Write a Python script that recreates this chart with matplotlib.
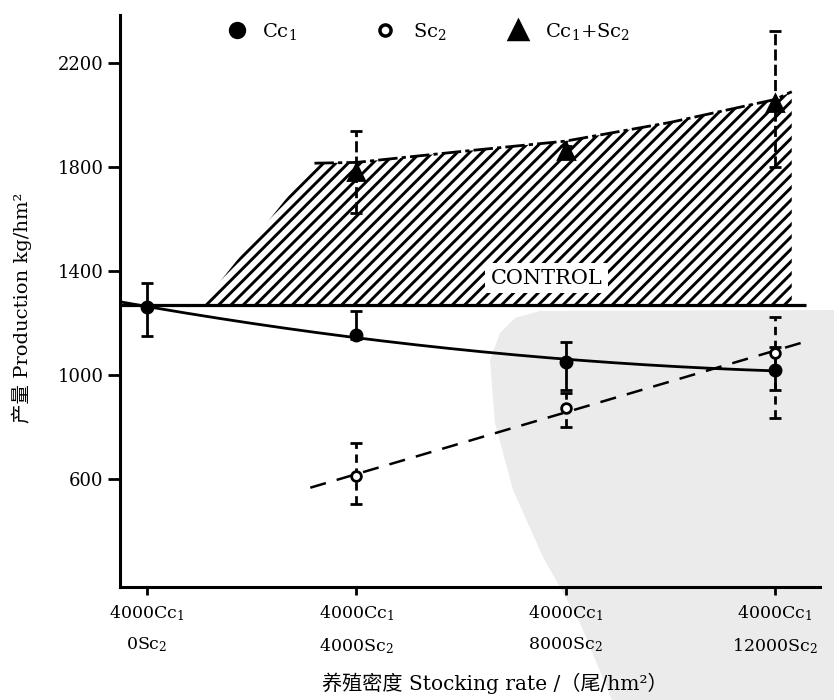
import numpy as np
import matplotlib
matplotlib.use("Agg")
import matplotlib.pyplot as plt
from matplotlib.patches import Polygon
from matplotlib.lines import Line2D
from matplotlib.collections import LineCollection

plt.rcParams['font.family'] = ['DejaVu Serif', 'Noto Sans CJK SC']
plt.rcParams['mathtext.fontset'] = 'dejavuserif'

# ---- data -------------------------------------------------------------
treat_labels = ["4000Cc$_1$\n0Sc$_2$", "4000Cc$_1$\n4000Sc$_2$",
                "4000Cc$_1$\n8000Sc$_2$", "4000Cc$_1$\n12000Sc$_2$"]
treat_pos = [0, 1, 2, 3]

# Cc1 yield (kg/hm2)
cc1_x = [0, 1, 2, 3]
cc1_mean = [1260, 1155, 1050, 1020]
cc1_err_lo = [110, 15, 108, 78]
cc1_err_hi = [95, 90, 77, 88]

# Sc2 yield
sc2_x = [1, 2, 3]
sc2_mean = [610, 875, 1085]
sc2_err_lo = [105, 75, 250]
sc2_err_hi = [130, 55, 138]

# Cc1 + Sc2 total yield
mix_x = [1, 2, 3]
mix_mean = [1780, 1860, 2045]
mix_err_lo = [155, 20, 245]
mix_err_hi = [160, 20, 280]

# monoculture control level
control_level = 1270
control_span = [-0.13, 3.15]

# upper edge of the yield-gain zone (dash-dot trend)
gain_x = [0.80, 1.0, 1.5, 2.0, 2.5, 3.0, 3.08]
gain_y = [1815, 1818, 1860, 1900, 1972, 2060, 2090]
gain_base_start = 0.26

cc1_trend_span = [-0.13, 3.0]
sc2_trend_span = [0.78, 3.17]

yticks = [600, 1000, 1400, 1800, 2200]

# ---- figure -----------------------------------------------------------
FW, FH, DPI = 834, 700, 100
fig = plt.figure(figsize=(FW / DPI, FH / DPI), dpi=DPI)

def fx(px):
    return px / FW

def fy(py):
    return 1 - py / FH

# light grey seal in the lower right background
seal_px = [(834, 310), (540, 311), (515, 318), (500, 333), (490, 360),
           (495, 423), (513, 490), (543, 557), (580, 623), (612, 700), (834, 700)]
seal = Polygon([(fx(a), fy(b)) for a, b in seal_px], closed=True,
               transform=fig.transFigure, fc='#ebebeb', ec='none', zorder=-1)
fig.patches.append(seal)

ax_left, ax_bottom, ax_w, ax_h = 120, 587, 700, 572
ax = fig.add_axes([fx(ax_left), fy(ax_bottom), ax_w / FW, ax_h / FH])
ax.patch.set_visible(False)

ax.set_xlim(-0.129, 3.215)
ax.set_ylim(185, 2385)

# hatched gain zone above the control line
verts = [(gain_base_start, control_level)] + list(zip(gain_x, gain_y)) + \
        [(gain_x[-1], control_level)]
zone = Polygon(verts, closed=True, fc='none', ec='none')
ax.add_patch(zone)
step = 12.3 / ax_w
offsets = np.arange(-1.0, 1.0, step)
segs = [[(c, 0), (c + ax_h / ax_w, 1)] for c in offsets]
hatch = LineCollection(segs, colors='black', linewidths=2.1,
                       transform=ax.transAxes, zorder=2)
hatch.set_clip_path(zone)
ax.add_collection(hatch, autolim=False)

ax.text(1.91, 1373, "CONTROL", ha='center', va='center', fontsize=15,
        zorder=3, bbox=dict(fc='white', ec='none', pad=4))

# control line
ax.plot(control_span, [control_level] * 2, color='black', lw=2.3, zorder=3,
        solid_capstyle='butt')

# gain zone upper edge
ax.plot(gain_x, gain_y, color='black', lw=2.0, dashes=(7, 1.5, 1.5, 1.5),
        zorder=3)

# Cc1 trend (quadratic fit)
c_cc1 = np.polyfit(cc1_x, cc1_mean, 2)
xx = np.linspace(cc1_trend_span[0], cc1_trend_span[1], 200)
ax.plot(xx, np.polyval(c_cc1, xx), color='black', lw=2.0, zorder=3)

# Sc2 trend (linear fit)
c_sc2 = np.polyfit(sc2_x, sc2_mean, 1)
xx = np.array(sc2_trend_span)
ax.plot(xx, np.polyval(c_sc2, xx), color='black', lw=1.8,
        dashes=(6.5, 4.5), zorder=3)


def series(x, m, lo, hi, marker, ms, mfc, style):
    eb = ax.errorbar(x, m, yerr=[lo, hi], fmt=marker, ms=ms, mfc=mfc,
                     mec='black', mew=2.0, color='black', ecolor='black',
                     elinewidth=2.0, capsize=4.5, capthick=2.2, zorder=5)
    if style is not None:
        eb[2][0].set_linestyle(style)
    return eb


series(cc1_x, cc1_mean, cc1_err_lo, cc1_err_hi, 'o', 8, 'black', None)
series(sc2_x, sc2_mean, sc2_err_lo, sc2_err_hi, 'o', 7, 'white', (0, (3, 2)))
series(mix_x, mix_mean, mix_err_lo, mix_err_hi, '^', 11, 'black', (0, (4, 1.5)))

# axes styling
for s in ('top', 'right'):
    ax.spines[s].set_visible(False)
for s in ('left', 'bottom'):
    ax.spines[s].set_linewidth(2.2)

ax.set_yticks(yticks)
ax.set_yticklabels([str(v) for v in yticks])
ax.tick_params(axis='y', direction='out', length=9, width=2.0,
               labelsize=13, pad=3)
ax.set_xticks(treat_pos)
ax.set_xticklabels(treat_labels, linespacing=1.85, multialignment='center')
ax.tick_params(axis='x', direction='out', length=6, width=2.0,
               labelsize=12.5, pad=6)

# legend row
legend_items = [(237, 262, 'o', 10, 'black', "Cc$_1$"),
                (385, 413, 'o', 8, 'white', "Sc$_2$"),
                (518, 545, '^', 13, 'black', "Cc$_1$+Sc$_2$")]
for mx, tx, mk, ms, fc, lab in legend_items:
    fig.add_artist(Line2D([fx(mx)], [fy(30)], marker=mk, ms=ms, mfc=fc,
                          mec='black', mew=2.5, ls='none',
                          transform=fig.transFigure))
    fig.text(fx(tx), fy(31), lab, ha='left', va='center', fontsize=14)

fig.text(fx(22), fy(308), "产量 Production kg/hm²", rotation=90,
         ha='center', va='center', fontsize=14)
fig.text(fx(495), fy(683), "养殖密度 Stocking rate /（尾/hm²）",
         ha='center', va='center', fontsize=14.5)

fig.savefig("out.png", dpi=DPI)
